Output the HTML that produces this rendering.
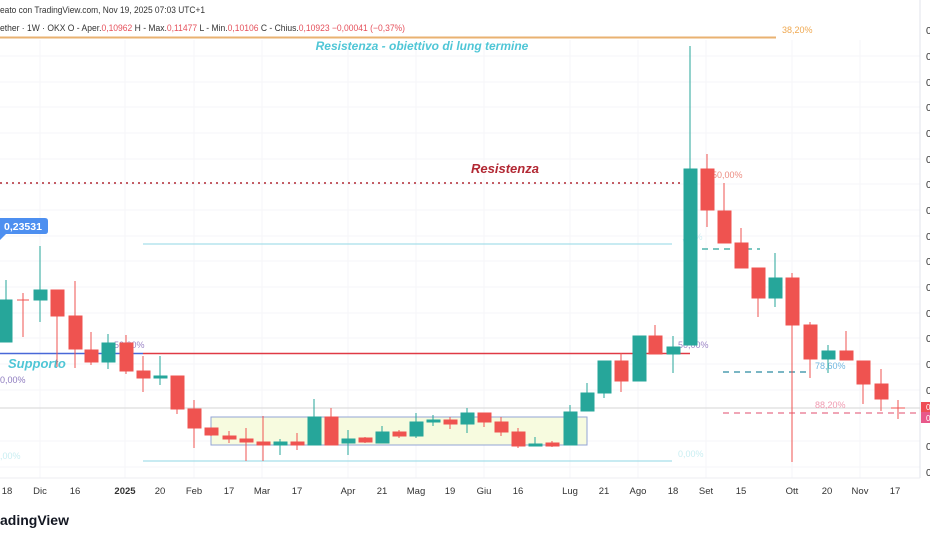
<!DOCTYPE html>
<html><head><meta charset="utf-8"><style>
html,body{margin:0;padding:0;background:#fff;width:930px;height:538px;overflow:hidden}
svg{display:block;font-family:"Liberation Sans",sans-serif}
</style></head><body>
<svg width="930" height="538" viewBox="0 0 930 538" xmlns="http://www.w3.org/2000/svg">
<rect width="930" height="538" fill="#fff"/>
<g stroke="#f5f6f8" stroke-width="1">
<line x1="0" y1="56" x2="920" y2="56"/><line x1="0" y1="82" x2="920" y2="82"/><line x1="0" y1="107" x2="920" y2="107"/><line x1="0" y1="133" x2="920" y2="133"/><line x1="0" y1="159" x2="920" y2="159"/><line x1="0" y1="184" x2="920" y2="184"/><line x1="0" y1="210" x2="920" y2="210"/><line x1="0" y1="236" x2="920" y2="236"/><line x1="0" y1="261" x2="920" y2="261"/><line x1="0" y1="287" x2="920" y2="287"/><line x1="0" y1="313" x2="920" y2="313"/><line x1="0" y1="338" x2="920" y2="338"/><line x1="0" y1="364" x2="920" y2="364"/><line x1="0" y1="390" x2="920" y2="390"/><line x1="0" y1="441" x2="920" y2="441"/><line x1="0" y1="467" x2="920" y2="467"/>
<line x1="40" y1="40" x2="40" y2="478"/><line x1="125" y1="40" x2="125" y2="478"/><line x1="194" y1="40" x2="194" y2="478"/><line x1="262" y1="40" x2="262" y2="478"/><line x1="348" y1="40" x2="348" y2="478"/><line x1="416" y1="40" x2="416" y2="478"/><line x1="484" y1="40" x2="484" y2="478"/><line x1="570" y1="40" x2="570" y2="478"/><line x1="638" y1="40" x2="638" y2="478"/><line x1="706" y1="40" x2="706" y2="478"/><line x1="792" y1="40" x2="792" y2="478"/><line x1="860" y1="40" x2="860" y2="478"/>
</g>
<line x1="920" y1="0" x2="920" y2="478" stroke="#e0e3eb"/>
<line x1="0" y1="478" x2="920" y2="478" stroke="#eceef2"/>

<text x="0" y="13" font-size="9.5" fill="#333" textLength="205" lengthAdjust="spacingAndGlyphs">eato con TradingView.com, Nov 19, 2025 07:03 UTC+1</text>
<text x="0" y="31" font-size="9" fill="#333" textLength="405" lengthAdjust="spacingAndGlyphs">ether · 1W · OKX  O - Aper.<tspan fill="#e5505b">0,10962</tspan>  H - Max.<tspan fill="#e5505b">0,11477</tspan>  L - Min.<tspan fill="#e5505b">0,10106</tspan>  C - Chius.<tspan fill="#e5505b">0,10923  −0,00041 (−0,37%)</tspan></text>

<line x1="0" y1="37.5" x2="776" y2="37.5" stroke="#e9b271" stroke-width="2"/>
<text x="782" y="33" font-size="9" fill="#efa850">38,20%</text>
<text x="422" y="50" font-size="12" font-weight="bold" font-style="italic" fill="#4fc6d6" text-anchor="middle">Resistenza - obiettivo di lung termine</text>
<line x1="0" y1="183" x2="690" y2="183" stroke="#b22833" stroke-width="1.6" stroke-dasharray="2,4"/>
<text x="505" y="173" font-size="13" font-weight="bold" font-style="italic" fill="#b22833" text-anchor="middle">Resistenza</text>
<line x1="143" y1="244" x2="672" y2="244" stroke="#a7dfe9" stroke-width="1.3"/>
<text x="682" y="240" font-size="9" fill="#cdeff3">,00%</text>
<line x1="143" y1="353.5" x2="690" y2="353.5" stroke="#e03a45" stroke-width="1.5"/>
<line x1="0" y1="353.5" x2="143" y2="353.5" stroke="#4968d8" stroke-width="1.5"/>
<text x="114" y="348" font-size="9" fill="#9b84c6">50,00%</text>
<text x="8" y="368" font-size="13" font-weight="bold" font-style="italic" fill="#4fc6d6">Supporto</text>
<text x="0" y="383" font-size="9" fill="#8e7bbf">0,00%</text>
<line x1="143" y1="461" x2="672" y2="461" stroke="#a7dfe9" stroke-width="1.3"/>
<text x="678" y="457" font-size="9" fill="#c9eef2">0,00%</text>
<text x="0" y="459" font-size="9" fill="#c9eef2">,00%</text>
<line x1="0" y1="408" x2="920" y2="408" stroke="#d6d6d6" stroke-width="1"/>
<line x1="702" y1="249" x2="760" y2="249" stroke="#2aa59a" stroke-width="1.3" stroke-dasharray="6,5"/>
<line x1="723" y1="372" x2="810" y2="372" stroke="#2a8aa0" stroke-width="1.3" stroke-dasharray="6,5"/>
<text x="815" y="369" font-size="9" fill="#6fb6df">78,60%</text>
<line x1="723" y1="413" x2="920" y2="413" stroke="#e8708a" stroke-width="1.3" stroke-dasharray="6,5"/>
<text x="815" y="408" font-size="9" fill="#f09ab0">88,20%</text>
<text x="712" y="178" font-size="9" fill="#ec8c80">50,00%</text>
<text x="678" y="348" font-size="9" fill="#9b84c6">50,00%</text>

<rect x="211" y="417" width="376" height="28" fill="#f7fbdf" stroke="#93a4d6" stroke-width="1"/>

<path d="M0 218 H45 Q48 218 48 221 V231 Q48 234 45 234 H6 L0 240 Z" fill="#4d8ff0"/>
<text x="4" y="230" font-size="10.5" font-weight="bold" fill="#fff">0,23531</text>

<g stroke-width="1">
<g fill="#26a69a" stroke="#26a69a">
<line x1="6" y1="280" x2="6" y2="342"/><rect x="0" y="300" width="12" height="42"/>
<line x1="40" y1="246" x2="40" y2="322"/><rect x="34" y="290" width="13" height="10"/>
<line x1="108" y1="334" x2="108" y2="369"/><rect x="102" y="343" width="13" height="19"/>
<line x1="160" y1="356" x2="160" y2="385"/><rect x="154" y="376" width="13" height="2"/>
<line x1="280" y1="439" x2="280" y2="455"/><rect x="274" y="442" width="13" height="3"/>
<line x1="314" y1="399" x2="314" y2="445"/><rect x="308" y="417" width="13" height="28"/>
<line x1="348" y1="430" x2="348" y2="455"/><rect x="342" y="439" width="13" height="4"/>
<line x1="382" y1="426" x2="382" y2="443"/><rect x="376" y="432" width="13" height="11"/>
<line x1="416" y1="413" x2="416" y2="438"/><rect x="410" y="422" width="13" height="14"/>
<line x1="433" y1="415" x2="433" y2="426"/><rect x="427" y="420" width="13" height="2"/>
<line x1="467" y1="408" x2="467" y2="433"/><rect x="461" y="413" width="13" height="11"/>
<line x1="535" y1="437" x2="535" y2="446"/><rect x="529" y="444" width="13" height="2"/>
<line x1="570" y1="405" x2="570" y2="445"/><rect x="564" y="412" width="13" height="33"/>
<line x1="587" y1="383" x2="587" y2="411"/><rect x="581" y="393" width="13" height="18"/>
<line x1="604" y1="361" x2="604" y2="398"/><rect x="598" y="361" width="13" height="32"/>
<line x1="639" y1="336" x2="639" y2="381"/><rect x="633" y="336" width="13" height="45"/>
<line x1="673" y1="336" x2="673" y2="373"/><rect x="667" y="347" width="13" height="7"/>
<line x1="690" y1="46" x2="690" y2="345"/><rect x="684" y="169" width="13" height="176"/>
<line x1="775" y1="253" x2="775" y2="307"/><rect x="769" y="278" width="13" height="20"/>
<line x1="828" y1="345" x2="828" y2="373"/><rect x="822" y="351" width="13" height="8"/>
</g>
<g fill="#ef5350" stroke="#ef5350">
<line x1="23" y1="293" x2="23" y2="337"/><line x1="17" y1="300" x2="29" y2="300"/>
<line x1="57" y1="290" x2="57" y2="367"/><rect x="51" y="290" width="13" height="26"/>
<line x1="75" y1="281" x2="75" y2="368"/><rect x="69" y="316" width="13" height="33"/>
<line x1="91" y1="332" x2="91" y2="365"/><rect x="85" y="350" width="13" height="12"/>
<line x1="126" y1="335" x2="126" y2="374"/><rect x="120" y="343" width="13" height="28"/>
<line x1="143" y1="356" x2="143" y2="392"/><rect x="137" y="371" width="13" height="7"/>
<line x1="177" y1="376" x2="177" y2="414"/><rect x="171" y="376" width="13" height="33"/>
<line x1="194" y1="400" x2="194" y2="448"/><rect x="188" y="409" width="13" height="19"/>
<line x1="211" y1="428" x2="211" y2="436"/><rect x="205" y="428" width="13" height="7"/>
<line x1="229" y1="431" x2="229" y2="443"/><rect x="223" y="436" width="13" height="3"/>
<line x1="246" y1="428" x2="246" y2="461"/><rect x="240" y="439" width="13" height="3"/>
<line x1="263" y1="416" x2="263" y2="461"/><rect x="257" y="442" width="13" height="3"/>
<line x1="297" y1="433" x2="297" y2="450"/><rect x="291" y="442" width="13" height="3"/>
<line x1="331" y1="408" x2="331" y2="445"/><rect x="325" y="417" width="13" height="28"/>
<line x1="365" y1="437" x2="365" y2="443"/><rect x="359" y="438" width="13" height="4"/>
<line x1="399" y1="430" x2="399" y2="438"/><rect x="393" y="432" width="13" height="4"/>
<line x1="450" y1="417" x2="450" y2="429"/><rect x="444" y="420" width="13" height="4"/>
<line x1="484" y1="413" x2="484" y2="427"/><rect x="478" y="413" width="13" height="9"/>
<line x1="501" y1="417" x2="501" y2="436"/><rect x="495" y="422" width="13" height="10"/>
<line x1="518" y1="428" x2="518" y2="448"/><rect x="512" y="432" width="13" height="14"/>
<line x1="552" y1="441" x2="552" y2="447"/><rect x="546" y="443" width="13" height="3"/>
<line x1="621" y1="353" x2="621" y2="392"/><rect x="615" y="361" width="13" height="20"/>
<line x1="655" y1="325" x2="655" y2="354"/><rect x="649" y="336" width="13" height="18"/>
<line x1="707" y1="154" x2="707" y2="227"/><rect x="701" y="169" width="13" height="41"/>
<line x1="724" y1="183" x2="724" y2="243"/><rect x="718" y="211" width="13" height="32"/>
<line x1="741" y1="228" x2="741" y2="268"/><rect x="735" y="243" width="13" height="25"/>
<line x1="758" y1="268" x2="758" y2="317"/><rect x="752" y="268" width="13" height="30"/>
<line x1="792" y1="273" x2="792" y2="462"/><rect x="786" y="278" width="13" height="47"/>
<line x1="810" y1="322" x2="810" y2="378"/><rect x="804" y="325" width="13" height="34"/>
<line x1="846" y1="331" x2="846" y2="360"/><rect x="840" y="351" width="13" height="9"/>
<line x1="863" y1="361" x2="863" y2="404"/><rect x="857" y="361" width="13" height="23"/>
<line x1="881" y1="369" x2="881" y2="411"/><rect x="875" y="384" width="13" height="15"/>
<line x1="898" y1="400" x2="898" y2="419"/><line x1="891" y1="408" x2="905" y2="408"/>
</g>
</g>

<g font-size="10" fill="#333">
<text x="926" y="34">0</text><text x="926" y="60">0</text><text x="926" y="86">0</text><text x="926" y="111">0</text><text x="926" y="137">0</text><text x="926" y="163">0</text><text x="926" y="188">0</text><text x="926" y="214">0</text><text x="926" y="240">0</text><text x="926" y="265">0</text><text x="926" y="291">0</text><text x="926" y="317">0</text><text x="926" y="342">0</text><text x="926" y="368">0</text><text x="926" y="394">0</text><text x="926" y="450">0</text><text x="926" y="476">0</text>
</g>
<rect x="921" y="402" width="9" height="10" fill="#ef4d55"/>
<rect x="921" y="412" width="9" height="11" fill="#e8588a"/>
<text x="926" y="410" font-size="8" fill="#fff">0</text>
<text x="926" y="421" font-size="8" fill="#fff">0</text>

<g font-size="9.5" fill="#333" text-anchor="middle">
<text x="7" y="494">18</text><text x="40" y="494">Dic</text><text x="75" y="494">16</text><text x="125" y="494" font-weight="bold">2025</text><text x="160" y="494">20</text><text x="194" y="494">Feb</text><text x="229" y="494">17</text><text x="262" y="494">Mar</text><text x="297" y="494">17</text><text x="348" y="494">Apr</text><text x="382" y="494">21</text><text x="416" y="494">Mag</text><text x="450" y="494">19</text><text x="484" y="494">Giu</text><text x="518" y="494">16</text><text x="570" y="494">Lug</text><text x="604" y="494">21</text><text x="638" y="494">Ago</text><text x="673" y="494">18</text><text x="706" y="494">Set</text><text x="741" y="494">15</text><text x="792" y="494">Ott</text><text x="827" y="494">20</text><text x="860" y="494">Nov</text><text x="895" y="494">17</text>
</g>
<text x="0" y="525" font-size="14" font-weight="bold" fill="#131722">adingView</text>
</svg>
</body></html>
